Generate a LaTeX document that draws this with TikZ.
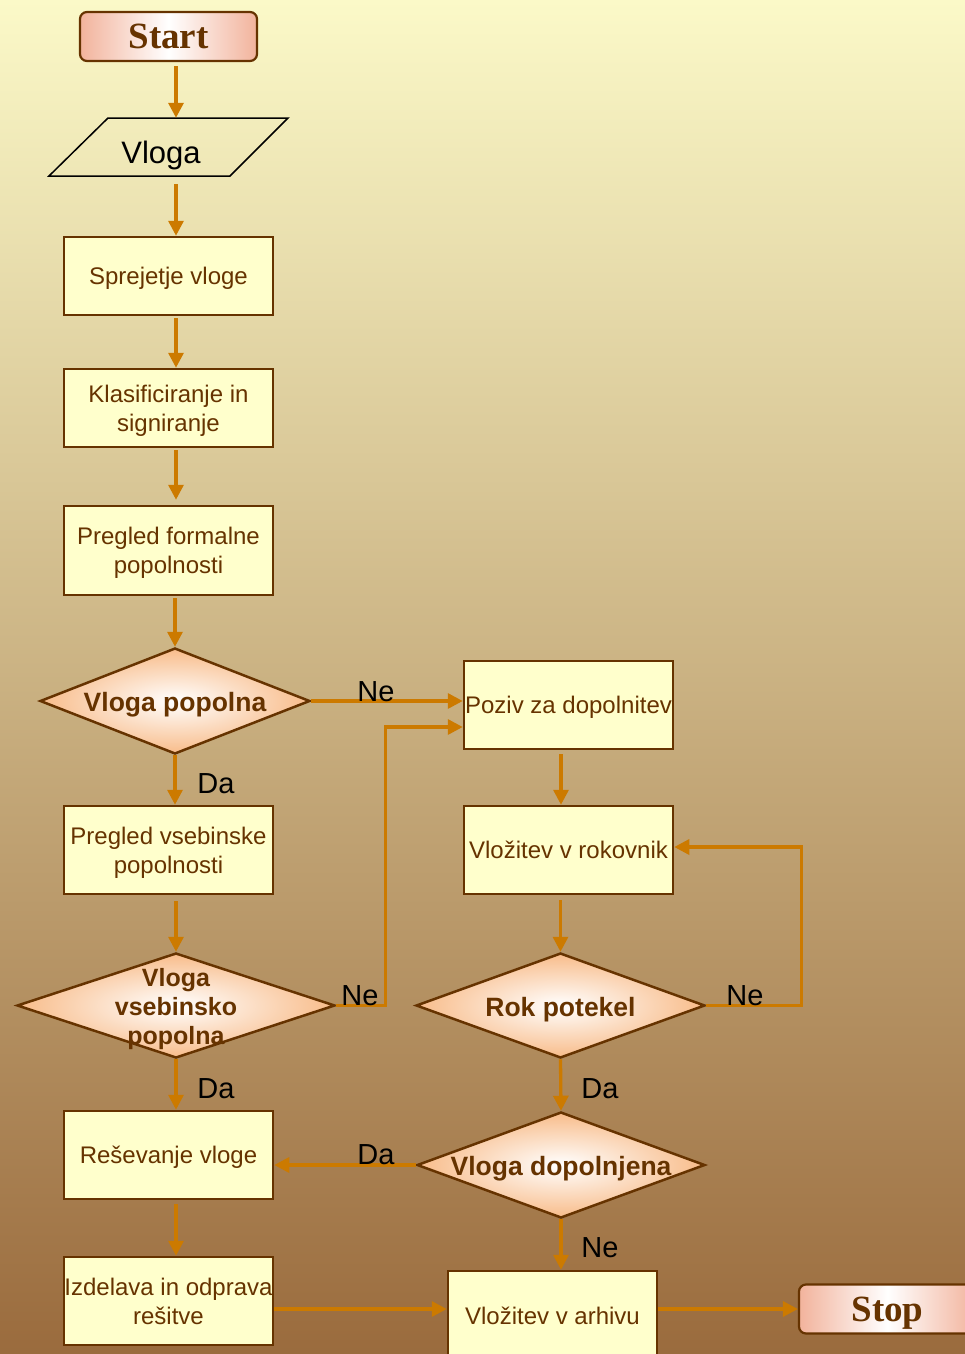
\documentclass[tikz,border=0pt]{standalone}
\usepackage{fontspec}
\setmainfont{Liberation Sans}
\newfontfamily\serifbold{Liberation Serif}
\usetikzlibrary{arrows.meta,shapes.geometric,calc}
\definecolor{bgtop}{HTML}{FBF9C8}
\definecolor{bgmid}{HTML}{D9CDA0}
\definecolor{bgbot}{HTML}{9A6B3D}
\definecolor{edge}{HTML}{663300}
\definecolor{boxfill}{HTML}{FFFFCC}
\definecolor{flow}{HTML}{CC7A00}
\definecolor{peach}{HTML}{F8BC8A}
\definecolor{salmon}{HTML}{F2B39C}
\begin{document}
\begin{tikzpicture}[x=1pt,y=-1pt,
  stepbox/.style={draw=edge,line width=2.5pt,fill=boxfill,minimum width=209pt,
    inner sep=0pt,text=edge,align=center,text depth=0pt,
    font=\fontsize{24}{29}\selectfont},
  terminal/.style={draw=edge,line width=2.2pt,rounded corners=7pt,
    left color=salmon,right color=salmon,middle color=white,
    minimum width=177pt,minimum height=49pt,inner sep=0pt,text=edge,
    text height=24pt,text depth=0pt,
    font=\serifbold\bfseries\fontsize{37}{40}\selectfont},
  decision/.style={shape=diamond,draw=edge,line width=2.5pt,inner sep=0pt,
    inner color=white,outer color=peach},
  dtext/.style={text=edge,align=center,inner sep=0pt,yshift=-4pt,
    font=\bfseries\fontsize{26.5}{29}\selectfont},
  lbl/.style={text=black,inner sep=0pt,font=\fontsize{29}{32}\selectfont},
  arr/.style={draw=flow,line width=3.3pt,-{Triangle[length=15pt,width=15pt]}},
]
\useasboundingbox (0,0) rectangle (965,1354);
\clip (0,0) rectangle (965,1354);
% background
\shade[top color=bgtop,middle color=bgmid,bottom color=bgbot] (0,0) rectangle (965,1354);

% terminals
\node[terminal] (start) at (168.5,36.5) {Start};
\node[terminal] (stop) at (887.5,1309) {Stop};

% input parallelogram
\draw[black,line width=1.5pt] (108,118) -- (288,118) -- (230,176) -- (49,176) -- cycle;
\node[minimum width=180pt,minimum height=58pt,inner sep=0pt] (vloga) at (168.5,147) {};
\node[inner sep=0pt,font=\fontsize{31}{34}\selectfont] (vlogatext) at (161,155) {Vloga};

% process boxes, left column
\node[stepbox,minimum height=78pt] (sprejetje) at (168.5,276) {Sprejetje vloge};
\node[stepbox,minimum height=78pt] (klas) at (168.5,408) {Klasificiranje in\\signiranje};
\node[stepbox,minimum height=89pt] (formal) at (168.5,550.5) {Pregled formalne\\popolnosti};
\node[stepbox,minimum height=88pt] (vsebin) at (168.5,850) {Pregled vsebinske\\popolnosti};
\node[stepbox,minimum height=88pt] (resev) at (168.5,1155) {Reševanje vloge};
\node[stepbox,minimum height=88pt] (izdel) at (168.5,1301) {Izdelava in odprava\\rešitve};

% process boxes, right column
\node[stepbox,minimum height=88pt] (poziv) at (568.5,705) {Poziv za dopolnitev};
\node[stepbox,minimum height=88pt] (rokov) at (568.5,850) {Vložitev v rokovnik};
\node[stepbox,minimum height=89pt] (arhiv) at (552.5,1315.5) {Vložitev v arhivu};

% decisions
\node[decision,minimum width=270pt,minimum height=106pt] (d1) at (175,701) {};
\node[dtext] at (d1) {Vloga popolna};
\node[decision,minimum width=318pt,minimum height=105pt] (d2) at (176,1005.5) {};
\node[dtext,font=\bfseries\fontsize{25}{29}\selectfont] at (d2) {Vloga\\vsebinsko\\popolna};
\node[decision,minimum width=289pt,minimum height=105pt] (d3) at (560.5,1005.5) {};
\node[dtext] at (d3) {Rok potekel};
\node[decision,minimum width=288pt,minimum height=106pt] (d4) at (561,1165) {};
\node[dtext] at (d4) {Vloga dopolnjena};

% main flow, left column
\draw[arr,shorten <=4pt] ([xshift=7.5pt]start.south) -- ([xshift=7.5pt]vloga.north);
\draw[arr,shorten <=8pt] ([xshift=7.5pt]vloga.south) -- ([xshift=7.5pt]sprejetje.north);
\draw[arr,shorten <=2pt] ([xshift=7.5pt]sprejetje.south) -- ([xshift=7.5pt]klas.north);
\draw[arr,shorten <=2pt,shorten >=5pt] ([xshift=7.5pt]klas.south) -- ([xshift=7.5pt]formal.north);
\draw[arr,shorten <=2pt] (d1.north |- formal.south) -- (d1.north);
\draw[arr] (d1.south) -- (d1.south |- vsebin.north);
\draw[arr,shorten <=6pt] (d2.north |- vsebin.south) -- (d2.north);
\draw[arr] (d2.south) -- (d2.south |- resev.north);
\draw[arr,shorten <=4pt] ([xshift=7.5pt]resev.south) -- ([xshift=7.5pt]izdel.north);
\draw[arr] ([yshift=-8pt]izdel.east) -- ([yshift=-8pt]izdel.east -| arhiv.west);
\draw[arr] (stop.west -| arhiv.east) -- (stop.west);

% branches
\draw[arr] (d1.east) -- (d1.east -| poziv.west);
\draw[arr] (d2.east) -- ++(49,0) |- ([yshift=-22pt]poziv.west);
\draw[arr,shorten <=4pt] ([xshift=-7.5pt]poziv.south) -- ([xshift=-7.5pt]rokov.north);
\draw[arr,shorten <=5pt] (d3.north |- rokov.south) -- (d3.north);
\draw[arr] (d3.east) -- ++(95,0) |- ([yshift=3pt]rokov.east);
\draw[arr] (d3.south) -- (d4.north);
\draw[arr] (d4.west) -- (d4.west -| resev.east);
\draw[arr] (d4.south) -- (d4.south |- arhiv.north);

% branch labels
\node[lbl] (ne1) at (376,692) {Ne};
\node[lbl] (da1) at (216,784) {Da};
\node[lbl] (ne2) at (360,996) {Ne};
\node[lbl] (da2) at (216,1089) {Da};
\node[lbl] (ne3) at (745,996) {Ne};
\node[lbl] (da3) at (600,1089) {Da};
\node[lbl] (da4) at (376,1155) {Da};
\node[lbl] (ne4) at (600,1248) {Ne};
\end{tikzpicture}
\end{document}
